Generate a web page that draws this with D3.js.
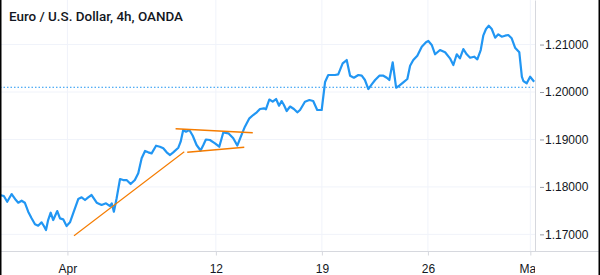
<html>
<head>
<meta charset="utf-8">
<style>
  body { margin: 0; background: #fff; }
  svg { display: block; font-family: Roboto, "Noto Sans", sans-serif; }
  .grid line { stroke: #f0f3fa; stroke-width: 1; }
  .axis text { fill: #131722; font-size: 12px; }
  .price { fill: none; stroke: #2196f3; stroke-width: 2.2; stroke-linejoin: round; }
  .trend { fill: none; stroke: #f57c00; }
</style>
<script src="https://cdn.jsdelivr.net/npm/d3@7"></script>
</head>
<body>
<svg id="chart" width="600" height="275"></svg>
<script>
// EUR/USD 4h closes, x = trading days since Apr 1
const days = [-3.18,-3.00,-2.84,-2.63,-2.43,-2.32,-2.16,-2.01,-1.85,-1.69,-1.53,-1.38,-1.22,-1.11,-1.01,-0.91,-0.79,-0.67,-0.48,-0.35,
  -0.20,-0.04,0.12,0.27,0.51,0.67,0.83,0.98,1.14,1.38,1.61,1.82,2.01,2.09,2.19,2.32,2.48,2.63,2.79,2.98,
  3.18,3.34,3.50,3.66,3.81,3.97,4.18,4.36,4.52,4.68,4.84,4.99,5.23,5.34,5.46,5.59,5.75,5.91,6.09,6.28,
  6.41,6.53,6.72,6.96,7.16,7.35,7.59,7.82,8.01,8.22,8.37,8.58,8.76,8.93,9.08,9.27,9.36,9.52,9.68,9.84,
  9.98,10.10,10.21,10.34,10.50,10.68,10.84,10.97,11.20,11.41,11.59,11.78,11.99,12.15,12.30,12.46,12.62,12.77,12.98,13.17,
  13.33,13.51,13.72,13.88,14.03,14.19,14.35,14.51,14.71,14.90,15.06,15.18,15.34,15.50,15.65,15.84,16.03,16.16,16.31,16.50,
  16.71,16.91,17.02,17.18,17.34,17.57,17.81,18.04,18.20,18.36,18.51,18.67,18.83,18.99,19.18,19.33,19.49,19.61,19.74,19.87,
  20.01,20.17,20.32,20.48,20.64,20.79,20.95,21.11,21.31,21.43,21.50,21.66,21.82,22.01]
const closes = [1.17829,1.17808,1.17688,1.17850,1.17724,1.17667,1.17709,1.17667,1.17477,1.17338,1.17212,1.17182,1.17254,1.17176,1.17092,1.17302,1.17456,1.17302,1.17492,1.17338,
  1.17317,1.17176,1.17254,1.17444,1.17745,1.17781,1.17724,1.17781,1.17829,1.17667,1.17619,1.17654,1.17597,1.17654,1.17477,1.17760,1.18166,1.18145,1.18145,1.18061,
  1.18145,1.18287,1.18603,1.18757,1.18729,1.18708,1.18868,1.18847,1.18813,1.18729,1.18672,1.18729,1.18826,1.18953,1.19199,1.19163,1.19199,1.19079,1.18883,1.18767,
  1.18883,1.18999,1.18988,1.18919,1.18847,1.19146,1.19130,1.19024,1.18872,1.19109,1.19269,1.19446,1.19515,1.19572,1.19642,1.19656,1.19635,1.19842,1.19796,1.19852,
  1.19711,1.19810,1.19726,1.19600,1.19694,1.19642,1.19572,1.19621,1.19796,1.19831,1.19810,1.19621,1.19621,1.20211,1.20358,1.20358,1.20358,1.20373,1.20605,1.20674,
  1.20344,1.20301,1.20358,1.20344,1.20253,1.20063,1.20162,1.20253,1.20344,1.20344,1.20301,1.20253,1.20626,1.20091,1.20133,1.20204,1.20274,1.20554,1.20674,1.20765,
  1.20955,1.21047,1.21075,1.20991,1.20795,1.20885,1.20837,1.20710,1.20569,1.20795,1.20710,1.20906,1.20795,1.20723,1.20744,1.20689,1.20885,1.21187,1.21328,1.21397,
  1.21328,1.21144,1.21216,1.21165,1.21187,1.21201,1.21132,1.20934,1.20837,1.20322,1.20232,1.20183,1.20322,1.20217]

// drawn trend lines: [day, price] pairs
const trendLines = [
  [[0.31, 1.16972], [5.51, 1.18742]],
  [[5.10, 1.19227], [8.74, 1.19142]],
  [[5.65, 1.18729], [8.34, 1.18835]]
]
const lastPrice = 1.2010

const yTicks = [1.17, 1.18, 1.19, 1.20, 1.21]
const xTicks = [0, 7, 12, 17, 21.83]
const xTickLabels = ["Apr", "12", "19", "26", "May"]
const title = "Euro / U.S. Dollar, 4h, OANDA"

const width = 600, height = 275
const plotW = 535, plotH = 251.5

const svg = d3.select("#chart")

const xScale = d3.scaleLinear().domain([-3.18, 22.05]).range([0, plotW])
const yScale = d3.scaleLinear().domain([1.16639, 1.21939]).range([plotH, 0])

svg.append("clipPath").attr("id", "plotclip")
  .append("rect").attr("width", plotW).attr("height", plotH)
// time labels are cut at the price scale (local coords of the axis group)
svg.append("clipPath").attr("id", "timeclip")
  .append("rect").attr("y", -2).attr("width", plotW).attr("height", 30)

// grid
let grid = svg.append("g").attr("class", "grid")
grid.selectAll(".h").data(yTicks).join("line")
  .attr("x1", 0).attr("x2", plotW)
  .attr("y1", d => yScale(d)).attr("y2", d => yScale(d))
grid.selectAll(".v").data(xTicks).join("line")
  .attr("x1", d => xScale(d)).attr("x2", d => xScale(d))
  .attr("y1", 0).attr("y2", plotH)

let plot = svg.append("g").attr("clip-path", "url(#plotclip)")

// last price dotted line
plot.append("line")
  .attr("x1", 0).attr("x2", plotW)
  .attr("y1", yScale(lastPrice)).attr("y2", yScale(lastPrice))
  .attr("stroke", "#2196f3").attr("stroke-width", 1).attr("stroke-dasharray", "1.5,2")

const data = days.map((d, i) => ({ t: d, p: closes[i] }))
const line = d3.line().x(d => xScale(d.t)).y(d => yScale(d.p))

plot.append("path").datum(data).attr("class", "price").attr("d", line)

plot.selectAll(".trend").data(trendLines).join("line")
  .attr("class", "trend")
  .attr("stroke-width", (d, i) => i == 0 ? 1.2 : 1.5)
  .attr("x1", d => xScale(d[0][0])).attr("y1", d => yScale(d[0][1]))
  .attr("x2", d => xScale(d[1][0])).attr("y2", d => yScale(d[1][1]))

// right price axis
let yAxis = svg.append("g").attr("class", "axis")
  .attr("transform", "translate(" + plotW + ",0)")
  .call(d3.axisRight(yScale).tickValues(yTicks).tickFormat(d3.format(".5f")).tickSize(0).tickPadding(10))
yAxis.select(".domain").attr("stroke", "#d6d8de")
yAxis.selectAll(".tick").append("line")
  .attr("x1", 5).attr("x2", 9).attr("stroke", "#9598a1")

// bottom time axis
let xAxis = svg.append("g").attr("class", "axis")
  .attr("transform", "translate(0," + plotH + ")")
  .attr("clip-path", "url(#timeclip)")
  .call(d3.axisBottom(xScale).tickValues(xTicks).tickFormat((d, i) => xTickLabels[i]).tickSize(4).tickPadding(9))
xAxis.select(".domain").remove()
xAxis.selectAll(".tick line").attr("stroke", "#d6d8de")
svg.append("line")
  .attr("x1", 0).attr("x2", width).attr("y1", plotH).attr("y2", plotH)
  .attr("stroke", "#d6d8de")

// title
svg.append("text")
  .attr("x", 9).attr("y", 20.5)
  .attr("fill", "#131722").attr("font-size", 13).attr("font-weight", 500)
  .attr("textLength", 174).attr("lengthAdjust", "spacingAndGlyphs")
  .text(title)

// frame edges
svg.append("rect").attr("x", 0).attr("y", 0).attr("width", 1.5).attr("height", height).attr("fill", "#000")
svg.append("rect").attr("x", width - 1.5).attr("y", 0).attr("width", 1.5).attr("height", height).attr("fill", "#000")
</script>
</body>
</html>
